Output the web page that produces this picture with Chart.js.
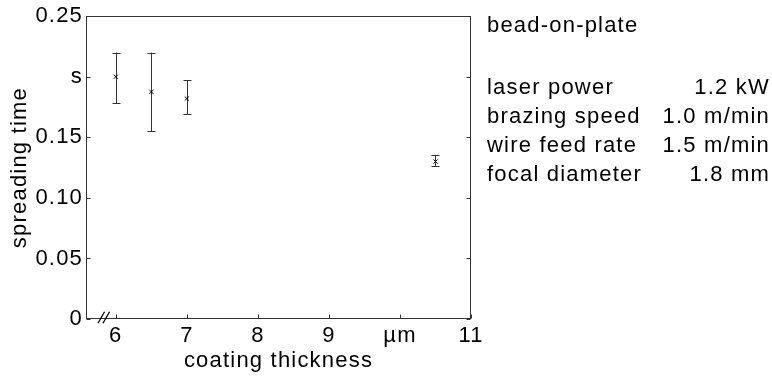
<!DOCTYPE html>
<html><head><meta charset="utf-8">
<script src="https://cdn.jsdelivr.net/npm/chart.js@4/dist/chart.umd.min.js"></script>
<style>html,body{margin:0;padding:0;background:#fff;overflow:hidden}</style>
</head><body>
<canvas id="c" width="772" height="379"></canvas>
<script>
// ---- data ----
const thickness  = [6, 6.5, 7, 10.5];
const spreadMean = [0.200, 0.1875, 0.182, 0.130];
const spreadLow  = [0.178, 0.155, 0.169, 0.126];
const spreadHigh = [0.220, 0.220, 0.197, 0.135];
const xTickValues = [6, 7, 8, 9, 10, 11];
const xTickLabels = ['6', '7', '8', '9', 'µm', '11'];
const yTickValues = [0, 0.05, 0.10, 0.15, 0.20, 0.25];
const yTickLabels = ['0', '0.05', '0.10', '0.15', 's', '0.25'];
const infoTitle  = 'bead-on-plate';
const infoNames  = ['laser power', 'brazing speed', 'wire feed rate', 'focal diameter'];
const infoValues = ['1.2 kW', '1.0 m/min', '1.5 m/min', '1.8 mm'];
const xMin = 5.58, xMax = 11, yMin = 0, yMax = 0.25, xBreakAt = 5.83;

const FONT = '"Liberation Sans", Arial, sans-serif';
const FS = 22;
const LS = '1.2px';
const AX = '#333';

function setSpacing(chart) { if ('letterSpacing' in chart.ctx) chart.ctx.letterSpacing = LS; }

const decor = {
  id: 'decor',
  beforeInit: setSpacing,
  beforeLayout: setSpacing,
  beforeDraw: setSpacing,
  beforeDatasetsDraw(chart) {
    const ctx = chart.ctx, xs = chart.scales.x, ys = chart.scales.y;
    ctx.save();
    ctx.strokeStyle = '#333';
    ctx.lineWidth = 1;
    thickness.forEach((t, i) => {
      const px = Math.round(xs.getPixelForValue(t)) + 0.5;
      const pl = ys.getPixelForValue(spreadLow[i]);
      const ph = ys.getPixelForValue(spreadHigh[i]);
      ctx.beginPath();
      ctx.moveTo(px, ph); ctx.lineTo(px, pl);
      ctx.moveTo(px - 4, Math.round(ph) + 0.5); ctx.lineTo(px + 4, Math.round(ph) + 0.5);
      ctx.moveTo(px - 4, Math.round(pl) + 0.5); ctx.lineTo(px + 4, Math.round(pl) + 0.5);
      ctx.stroke();
    });
    ctx.restore();
  },
  afterDraw(chart) {
    const ctx = chart.ctx, a = chart.chartArea, xs = chart.scales.x, ys = chart.scales.y;
    ctx.save();
    ctx.strokeStyle = AX;
    ctx.lineWidth = 1;
    const L = Math.round(a.left) + 0.5, R = Math.round(a.right) - 0.5;
    const T = Math.round(a.top) + 0.5, B = Math.round(a.bottom) - 0.5;
    ctx.strokeRect(L, T, R - L, B - T);
    ctx.beginPath();
    xTickValues.forEach(v => {
      const px = Math.round(xs.getPixelForValue(v)) + 0.5;
      ctx.moveTo(px, B); ctx.lineTo(px, B - 4);
    });
    yTickValues.forEach(v => {
      const py = Math.round(ys.getPixelForValue(v)) + 0.5;
      ctx.moveTo(L, py); ctx.lineTo(L + 4, py);
      ctx.moveTo(R, py); ctx.lineTo(R - 4, py);
    });
    ctx.stroke();
    // axis break marks
    const bx = xs.getPixelForValue(xBreakAt), by = B - 1;
    ctx.strokeStyle = '#000';
    ctx.lineWidth = 1.3;
    ctx.beginPath();
    [-2.5, 2.5].forEach(o => {
      ctx.moveTo(bx + o - 3.3, by + 5.8);
      ctx.lineTo(bx + o + 3.3, by - 5.8);
    });
    ctx.stroke();
    // info text
    ctx.fillStyle = '#000';
    ctx.font = FS + 'px ' + FONT;
    if ('letterSpacing' in ctx) ctx.letterSpacing = LS;
    ctx.textBaseline = 'alphabetic';
    ctx.textAlign = 'left';
    ctx.fillText(infoTitle, 487, 32);
    infoNames.forEach((n, i) => {
      const yb = 94 + i * 29;
      ctx.textAlign = 'left';
      ctx.fillText(n, 487, yb);
      ctx.textAlign = 'right';
      ctx.fillText(infoValues[i], 770, yb);
    });
    ctx.restore();
  }
};

new Chart(document.getElementById('c'), {
  type: 'scatter',
  data: {
    datasets: [{
      data: thickness.map((t, i) => ({x: t, y: spreadMean[i]})),
      pointStyle: 'crossRot',
      radius: 3,
      hoverRadius: 3,
      borderColor: '#000',
      backgroundColor: '#000',
      borderWidth: 1,
      showLine: false
    }]
  },
  options: {
    responsive: false,
    animation: false,
    devicePixelRatio: 1,
    layout: { padding: { left: 0, top: 15, right: 301, bottom: 0 } },
    plugins: { legend: { display: false }, tooltip: { enabled: false } },
    scales: {
      x: {
        type: 'linear', min: xMin, max: xMax,
        afterBuildTicks: s => { s.ticks = xTickValues.map(v => ({value: v})); },
        afterFit: s => { s.height = 60; },
        grid: { display: false, drawTicks: false },
        border: { display: false },
        ticks: {
          padding: 4, color: '#000', font: { family: FONT, size: FS },
          maxRotation: 0, autoSkip: false,
          callback: (v) => { const i = xTickValues.indexOf(v); return i >= 0 ? xTickLabels[i] : ''; }
        },
        title: { display: true, text: 'coating thickness', color: '#000',
                 font: { family: FONT, size: FS }, padding: { top: 0, bottom: 5 } }
      },
      y: {
        type: 'linear', min: yMin, max: yMax,
        afterBuildTicks: s => { s.ticks = yTickValues.map(v => ({value: v})); },
        afterFit: s => { s.width = 86; },
        grid: { display: false, drawTicks: false },
        border: { display: false },
        ticks: {
          padding: 3, color: '#000', font: { family: FONT, size: FS }, autoSkip: false,
          callback: (v) => { const i = yTickValues.findIndex(t => Math.abs(t - v) < 1e-9); return i >= 0 ? yTickLabels[i] : ''; }
        },
        title: { display: true, text: 'spreading time', color: '#000',
                 font: { family: FONT, size: FS }, padding: { top: 7, bottom: 0 } }
      }
    }
  },
  plugins: [decor]
});
</script>
</body></html>
